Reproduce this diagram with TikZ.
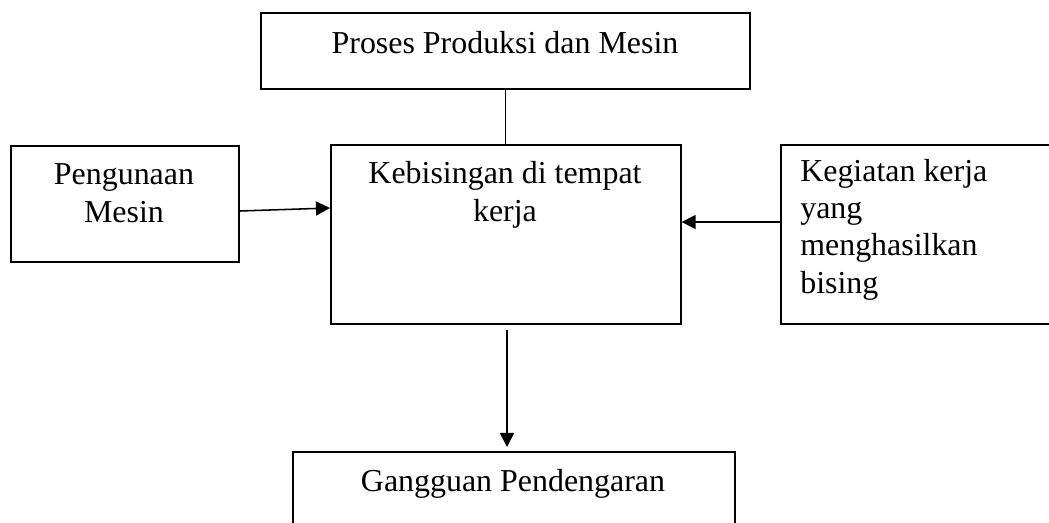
\documentclass[tikz,border=0pt]{standalone}
\usepackage{fontspec}
\setmainfont{Liberation Serif}
\usepackage{tikz}
\usetikzlibrary{arrows.meta}

\tikzset{
	kotak/.style = {draw, line width = 1.1pt, inner sep = 0pt},
	teks/.style = {inner sep = 0pt, font = \fontsize{22.7}{26.5}\selectfont},
	panah/.style = {line width = 1.1pt, -{Triangle[length = 10pt, width = 10pt]}}
}

\begin{document}
\begin{tikzpicture}[x = 0.025cm, y = -0.025cm]
\clip (0,0) rectangle (1049,522);

\node[kotak, anchor = north west, minimum width = 12.225cm, minimum height = 1.9cm] (prod) at (260,12) {};
\node[kotak, anchor = north west, minimum width = 5.7cm, minimum height = 2.9cm] (guna) at (10,145) {};
\node[kotak, anchor = north west, minimum width = 8.75cm, minimum height = 4.475cm] (bis) at (330,144) {};
\node[kotak, anchor = north west, minimum width = 7.25cm, minimum height = 4.475cm] (giat) at (780,144) {};
\node[kotak, anchor = north west, minimum width = 11.05cm, minimum height = 2.75cm] (ganggu) at (292,451) {};

% base = baseline of the last line
\node[teks, anchor = base] (prodteks) at (505,53) {Proses Produksi dan Mesin};
\node[teks, anchor = base, align = center] (gunateks) at (124,222) {Pengunaan\\Mesin};
\node[teks, anchor = base, align = center] (bisteks) at (505,221) {Kebisingan di tempat\\kerja};
\node[teks, anchor = base west, align = left] (giatteks) at (800,293) {Kegiatan kerja\\yang\\menghasilkan\\bising};
\node[teks, anchor = base] (gangguteks) at (513,491) {Gangguan Pendengaran};

\draw[line width = 1.1pt] (prod.south) -- (prod.south |- bis.north);
\draw[panah] (guna.east |- 0,211) -- (bis.west |- 0,208);
\draw[panah] (giat.west |- 0,222) -- (bis.east |- 0,222);
\draw[panah, shorten <= 7*0.025cm, shorten >= 4*0.025cm] (507,323) -- (507,451);
\end{tikzpicture}
\end{document}
